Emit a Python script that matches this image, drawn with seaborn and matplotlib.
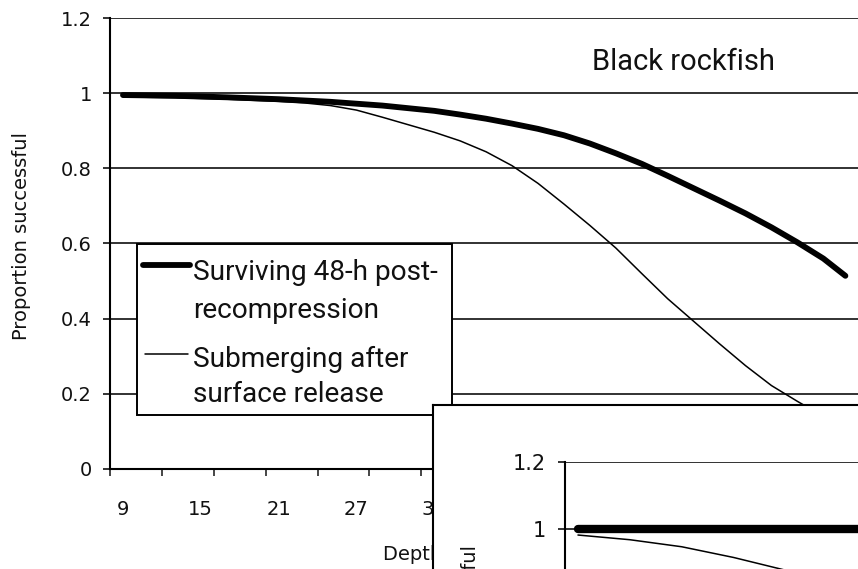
import matplotlib
matplotlib.use("Agg")
import matplotlib.pyplot as plt
from matplotlib import font_manager
from matplotlib.lines import Line2D
from matplotlib.patches import Rectangle
import seaborn as sns
import pandas as pd
import numpy as np

# main panel: black rockfish
depth = [9, 13, 17, 21, 25, 29, 33, 35, 37, 39, 41, 43, 45, 47, 49, 51, 53, 55,
         57, 59, 61, 63, 64.7]
surviving = [0.995, 0.993, 0.989, 0.984, 0.977, 0.967, 0.953, 0.943, 0.932, 0.919,
             0.905, 0.888, 0.866, 0.84, 0.812, 0.78, 0.747, 0.714, 0.68, 0.643,
             0.603, 0.56, 0.514]
sub_depth = [9, 13, 17, 21, 23, 25, 27, 29, 31, 33, 35, 37, 39, 41, 43, 45, 47, 49,
             51, 53, 55, 57, 59, 61, 63, 64.7]
submerging = [0.99, 0.988, 0.984, 0.978, 0.974, 0.967, 0.955, 0.936, 0.916, 0.896,
              0.873, 0.844, 0.807, 0.76, 0.705, 0.648, 0.588, 0.52, 0.453, 0.393,
              0.333, 0.275, 0.222, 0.18, 0.14, 0.11]

# second panel (partly visible underneath)
inset_depth = [9, 13, 17, 21, 25, 29, 33]
inset_surviving = [1, 1, 1, 1, 1, 1, 1]
inset_submerging = [0.982, 0.968, 0.947, 0.915, 0.877, 0.83, 0.78]

y_ticks = [0, 0.2, 0.4, 0.6, 0.8, 1.0, 1.2]
y_labels = ["0", "0.2", "0.4", "0.6", "0.8", "1", "1.2"]
x_labels = [9, 15, 21, 27, 33, 39, 45, 51, 57, 63]

legend_labels = [["Surviving 48-h post-", "recompression"],
                 ["Submerging after", "surface release"]]
title = "Black rockfish"
ylabel = "Proportion successful"
xlabel = "Depth (m)"

sns.set_style("white")
names = {f.name for f in font_manager.fontManager.ttflist}
narrow = "Liberation Sans Narrow" if "Liberation Sans Narrow" in names else "Roboto"
plt.rcParams["font.family"] = ["DejaVu Sans"]

W, H = 858, 569
INK = "#111111"


def box(l, t, r, b):
    return [l / W, 1 - b / H, (r - l) / W, (b - t) / H]


def px(x, y):
    return x / W, 1 - y / H


fig = plt.figure(figsize=(W / 100, H / 100), dpi=100)

# ---- main axes
ax = fig.add_axes(box(110, 18, 880, 469))
ax.set_xlim(8, 8 + (880 - 110) / 12.97)
ax.set_ylim(0, 1.2)
ax.set_yticks(y_ticks)
ax.set_yticklabels(y_labels)
ax.set_xticks(x_labels)
ax.set_xticks(np.arange(8, 68, 4), minor=True)
ax.tick_params(axis="y", direction="out", length=5, width=1.2, pad=8,
               labelsize=14, colors=INK, left=True)
ax.tick_params(axis="x", which="major", length=0, pad=22, labelsize=14, colors=INK)
ax.tick_params(axis="x", which="minor", direction="out", length=5, width=1.2,
               bottom=True)
for yv in y_ticks[1:]:
    ax.axhline(yv, color="#222222", lw=1.3, zorder=1)
for s in ["left", "bottom"]:
    ax.spines[s].set_color("black")
    ax.spines[s].set_linewidth(1.5)
ax.spines["right"].set_visible(False)
ax.spines["top"].set_visible(False)

df = pd.DataFrame({"depth": depth, "p": surviving})
df2 = pd.DataFrame({"depth": sub_depth, "p": submerging})
sns.lineplot(data=df, x="depth", y="p", ax=ax, color="black", lw=4.2,
             solid_capstyle="round", zorder=3)
sns.lineplot(data=df2, x="depth", y="p", ax=ax, color="black", lw=1.1, zorder=3)
ax.set_xlabel("")
ax.set_ylabel("")

fig.text(*px(683, 62), title, family=narrow, fontsize=21, color=INK,
         ha="center", va="center")
fig.text(*px(22, 236), ylabel, rotation=90, fontsize=14, color=INK,
         ha="center", va="center")
fig.text(*px(383, 555), xlabel, fontsize=14, color=INK, ha="left", va="center")

# ---- legend box
fig.patches.append(Rectangle(px(137, 415), (452 - 137) / W, (415 - 244) / H,
                             transform=fig.transFigure, facecolor="white",
                             edgecolor="black", lw=1.4, zorder=2))
fig.add_artist(Line2D([143 / W, 190 / W], [1 - 265 / H] * 2, color="black",
                      lw=4.2, solid_capstyle="round", zorder=3))
fig.add_artist(Line2D([145 / W, 188 / W], [1 - 354 / H] * 2, color="black",
                      lw=1.1, zorder=3))
for lines, base in zip(legend_labels, [(280, 318), (367, 402)]):
    for txt, yb in zip(lines, base):
        fig.text(*px(193, yb), txt, family=narrow, fontsize=20.2, color=INK,
                 ha="left", va="baseline", zorder=3)

# ---- second chart lying on top
panel = fig.add_axes(box(433, 405, 900, 700), zorder=5)
panel.set_facecolor("white")
panel.set_xticks([])
panel.set_yticks([])
for s in panel.spines.values():
    s.set_color("black")
    s.set_linewidth(1.5)

ax2 = fig.add_axes(box(565, 462, 900, 462 + 402), zorder=6)
ax2.patch.set_alpha(0)
ax2.set_xlim(8, 8 + (900 - 565) / 12.97)
ax2.set_ylim(0, 1.2)
ax2.set_yticks(y_ticks)
ax2.set_yticklabels(y_labels)
ax2.set_xticks([])
ax2.tick_params(axis="y", direction="out", length=5, width=1.2, pad=9,
                labelsize=15, colors=INK, left=True)
for yv in y_ticks[1:]:
    ax2.axhline(yv, color="#222222", lw=1.3, zorder=1)
for s in ["right", "top", "bottom"]:
    ax2.spines[s].set_visible(False)
ax2.spines["left"].set_color("black")
ax2.spines["left"].set_linewidth(1.5)
di = pd.DataFrame({"depth": inset_depth, "a": inset_surviving, "b": inset_submerging})
sns.lineplot(data=di, x="depth", y="a", ax=ax2, color="black", lw=6,
             solid_capstyle="round", zorder=3)
sns.lineplot(data=di, x="depth", y="b", ax=ax2, color="black", lw=1.1, zorder=3)
ax2.set_xlabel("")
ax2.set_ylabel("")
fig.text(*px(470, 545), ylabel, rotation=90, fontsize=14, color=INK,
         ha="center", va="top", zorder=7)

fig.savefig("out.png", dpi=100)
